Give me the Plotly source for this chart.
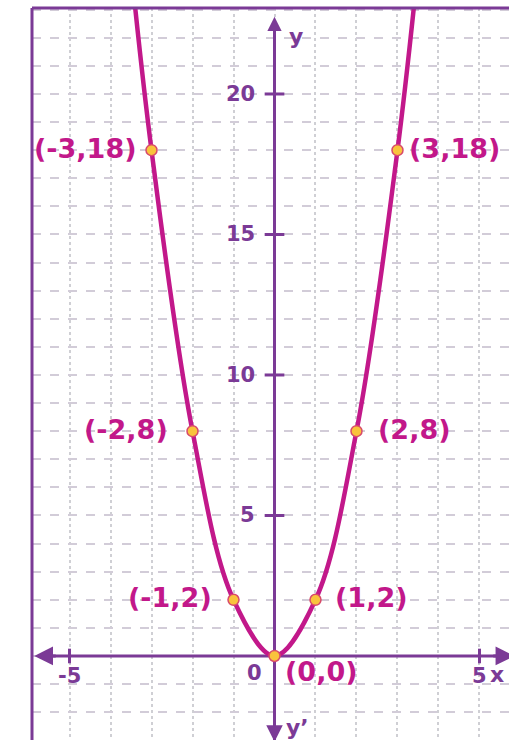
import plotly.graph_objects as go

# Marked points on the parabola
pt_x = [-3, -2, -1, 0, 1, 2, 3]
pt_y = [18, 8, 2, 0, 2, 8, 18]

# Curve through the marked points, continuing past the top of the grid
curve_x = [-3.5, -3, -2, -1, 0, 1, 2, 3, 3.5]
curve_y = [24.5, 18, 8, 2, 0, 2, 8, 18, 24.5]

# Axis ticks
x_ticks = [-5, 5]
y_ticks = [5, 10, 15, 20]

AXIS = "#7b3a96"
CURVE = "#c2188a"
DOT = "#f9c33c"
FONT = "DejaVu Sans"

X_RANGE = [-5.915, 5.72]
Y_RANGE = [-2.99, 23.06]

fig = go.Figure()

fig.add_trace(go.Scatter(
    x=curve_x, y=curve_y, mode="lines",
    line=dict(color=CURVE, width=4.5, shape="spline", smoothing=1.0),
    hoverinfo="skip",
))
fig.add_trace(go.Scatter(
    x=pt_x, y=pt_y, mode="markers",
    marker=dict(size=11, color=DOT, line=dict(color="#d84a6a", width=1.5)),
    hoverinfo="skip", cliponaxis=False,
))

shapes = []
# Frame on the left and top
shapes.append(dict(type="line", xref="paper", yref="paper", x0=0, x1=0, y0=0, y1=1,
                   line=dict(color=AXIS, width=3), layer="above"))
shapes.append(dict(type="line", xref="paper", yref="paper", x0=0, x1=1, y0=1, y1=1,
                   line=dict(color=AXIS, width=3), layer="above"))
# Coordinate axes
shapes.append(dict(type="line", xref="x", yref="y", x0=-5.6, x1=X_RANGE[1], y0=0, y1=0,
                   line=dict(color=AXIS, width=3), layer="between"))
shapes.append(dict(type="line", xref="x", yref="y", x0=0, x1=0, y0=Y_RANGE[0], y1=22.5,
                   line=dict(color=AXIS, width=3), layer="between"))
# Tick crosses
for t in x_ticks:
    shapes.append(dict(type="line", xref="x", yref="y", x0=t, x1=t, y0=-0.26, y1=0.26,
                       line=dict(color=AXIS, width=3), layer="between"))
for t in y_ticks:
    shapes.append(dict(type="line", xref="x", yref="y", x0=-0.24, x1=0.24, y0=t, y1=t,
                       line=dict(color=AXIS, width=3), layer="between"))

ann = []
# Arrowheads at the ends of the axes
ann.append(dict(x=-5.86, y=0, ax=-5.3, ay=0, xref="x", yref="y", axref="x", ayref="y",
                showarrow=True, arrowhead=2, arrowsize=1.25, arrowwidth=3,
                arrowcolor=AXIS, text=""))
ann.append(dict(x=5.85, y=0, ax=5.3, ay=0, xref="x", yref="y", axref="x", ayref="y",
                showarrow=True, arrowhead=2, arrowsize=1.25, arrowwidth=3,
                arrowcolor=AXIS, text=""))
ann.append(dict(x=0, y=22.75, ax=0, ay=21.5, xref="x", yref="y", axref="x", ayref="y",
                showarrow=True, arrowhead=2, arrowsize=0.95, arrowwidth=3,
                arrowcolor=AXIS, text=""))
ann.append(dict(x=0, y=-3.05, ax=0, ay=-2.0, xref="x", yref="y", axref="x", ayref="y",
                showarrow=True, arrowhead=2, arrowsize=1.1, arrowwidth=3,
                arrowcolor=AXIS, text=""))

tick_font = dict(family=FONT, size=21, color=AXIS, weight="bold")
for t in y_ticks:
    ann.append(dict(x=0, y=t, xref="x", yref="y", text=str(t), showarrow=False,
                    xanchor="right", yanchor="middle", xshift=-18, font=tick_font))
for t in x_ticks:
    ann.append(dict(x=t, y=0, xref="x", yref="y", text=str(t),
                    showarrow=False, xanchor="center", yanchor="middle",
                    yshift=-20, font=tick_font))
ann.append(dict(x=0, y=0, xref="x", yref="y", text="0", showarrow=False,
                xanchor="center", yanchor="middle", xshift=-20, yshift=-17, font=tick_font))

# Axis names
name_font = dict(family=FONT, size=22, color=AXIS, weight="bold")
ann.append(dict(x=-5.92, y=0, xref="x", yref="y", text="x’", showarrow=False,
                xanchor="left", yanchor="middle", xshift=3, yshift=18, font=name_font))
ann.append(dict(x=X_RANGE[1], y=0, xref="x", yref="y", text="x", showarrow=False,
                xanchor="right", yanchor="middle", xshift=-3, yshift=-19, font=name_font))
ann.append(dict(x=0, y=Y_RANGE[1], xref="x", yref="y", text="y", showarrow=False,
                xanchor="left", yanchor="middle", xshift=12, yshift=-28, font=name_font))
ann.append(dict(x=0, y=Y_RANGE[0], xref="x", yref="y", text="y’", showarrow=False,
                xanchor="left", yanchor="middle", xshift=9, yshift=13, font=name_font))

# Point labels: which side of the dot, and the gap to it
side = ["left", "left", "left", "below", "right", "right", "right"]
gap = [13, 23, 20, 8, 18, 20, 10]
label_font = dict(family=FONT, size=27, color=CURVE, weight="bold")
for x, y, s, g in zip(pt_x, pt_y, side, gap):
    txt = f"({x},{y})"
    if s == "left":
        ann.append(dict(x=x, y=y, xref="x", yref="y", text=txt, showarrow=False,
                        xanchor="right", yanchor="middle", xshift=-g, yshift=2,
                        font=label_font))
    elif s == "right":
        ann.append(dict(x=x, y=y, xref="x", yref="y", text=txt, showarrow=False,
                        xanchor="left", yanchor="middle", xshift=g, yshift=2,
                        font=label_font))
    else:
        ann.append(dict(x=x, y=y, xref="x", yref="y", text=txt, showarrow=False,
                        xanchor="left", yanchor="middle", xshift=g, yshift=-16,
                        font=label_font))

fig.update_layout(
    width=509, height=740,
    margin=dict(l=32, r=0, t=8, b=0),
    plot_bgcolor="white", paper_bgcolor="white",
    showlegend=False,
    shapes=shapes, annotations=ann,
    xaxis=dict(range=X_RANGE, tick0=0, dtick=1, showgrid=True,
               gridcolor="#cfcfd4", griddash="dot", gridwidth=1.5,
               zeroline=False, showticklabels=False, ticks="", showline=False,
               fixedrange=True),
    yaxis=dict(range=Y_RANGE, tick0=0, dtick=1, showgrid=True,
               gridcolor="#d2ccd8", griddash="dash", gridwidth=1.5,
               zeroline=False, showticklabels=False, ticks="", showline=False,
               fixedrange=True),
)

fig.write_html("out.html", config={"displayModeBar": False})
